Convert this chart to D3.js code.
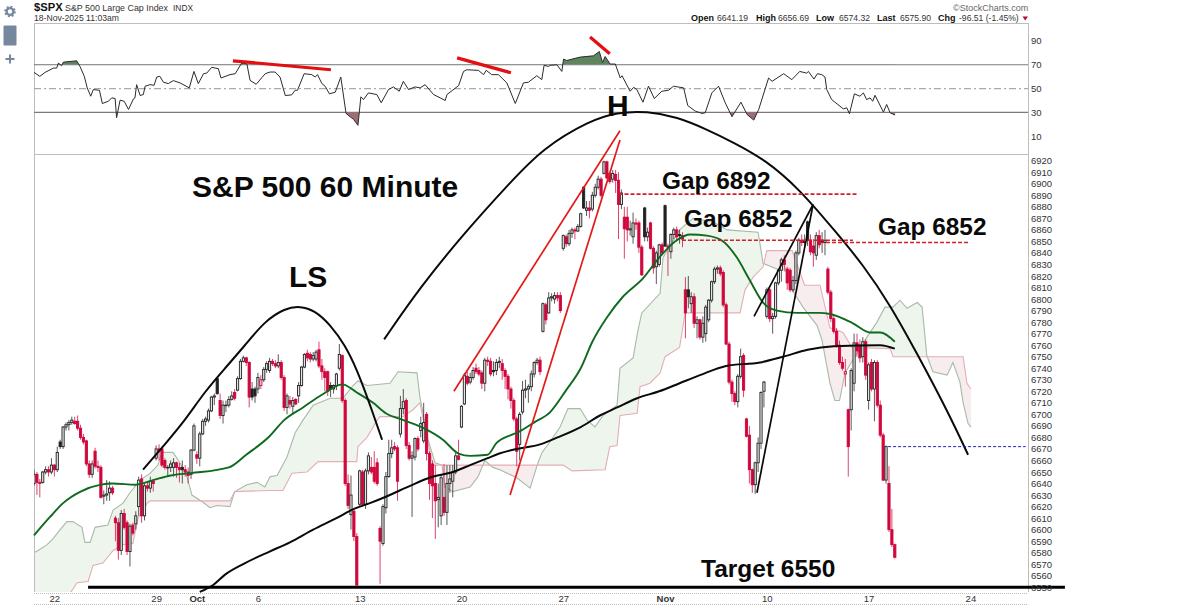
<!DOCTYPE html>
<html>
<head>
<meta charset="utf-8">
<style>
  html, body { margin: 0; padding: 0; background: #fff; }
  svg { display: block; }
  text { font-family: "Liberation Sans", Arial, sans-serif; }
</style>
<script src="https://cdn.jsdelivr.net/npm/d3@7/dist/d3.min.js"></script>
</head>
<body>
<div id="chart-container"></div>
<script>
// Hourly candles, one value per bar, 7 bars a day (bar 7 = 22 Sep)
var opens = [
  6640,6648,6641,6641,6650,6652,6650,6656,6652,6676,
  6672,6689,6691,6693,6694,6694,6688,6680,6677,6657,
  6648,6668,6655,6654,6629,6630,6632,6636,6610,6606,
  6582,6614,6606,6581,6604,6605,6620,6644,6612,6638,
  6636,6642,6662,6670,6670,6660,6654,6654,6654,6658,
  6654,6654,6652,6650,6648,6669,6665,6662,6683,6694,
  6695,6703,6715,6731,6712,6699,6708,6708,6713,6719,
  6721,6731,6746,6749,6745,6722,6722,6722,6725,6730,
  6739,6738,6746,6744,6742,6745,6732,6706,6712,6707,
  6713,6716,6725,6741,6753,6752,6748,6748,6756,6742,
  6737,6737,6725,6722,6725,6740,6751,6712,6640,6613,
  6616,6594,6622,6650,6622,6651,6654,6654,6658,6601,
  6588,6619,6646,6666,6672,6671,6683,6705,6712,6673,
  6662,6663,6679,6686,6677,6700,6666,6657,6640,6626,
  6612,6628,6615,6640,6642,6650,6664,6689,6709,6733,
  6728,6732,6740,6738,6736,6727,6747,6746,6738,6738,
  6745,6744,6738,6733,6722,6712,6696,6674,6702,6721,
  6722,6724,6735,6745,6747,6772,6795,6788,6801,6800,
  6803,6803,6844,6854,6848,6857,6860,6859,6863,6897,
  6877,6879,6878,6890,6897,6904,6909,6919,6909,6904,
  6908,6903,6882,6871,6871,6860,6854,6866,6866,6845,
  6879,6854,6866,6844,6828,6830,6847,6881,6846,6841,
  6856,6860,6856,6855,6808,6808,6796,6802,6779,6782,
  6767,6770,6782,6799,6815,6826,6827,6823,6795,6761,
  6728,6718,6711,6733,6751,6696,6682,6652,6639,6658,
  6675,6720,6785,6808,6783,6785,6814,6825,6834,6826,
  6825,6808,6816,6840,6851,6849,6867,6851,6846,6838,
  6855,6851,6849,6826,6806,6783,6772,6760,6745,6735,
  6704,6704,6727,6762,6760,6750,6763,6712,6745,6722,
  6745,6708,6682,6643,6640,6600,6587
];
var closes = [
  6648,6641,6640,6650,6652,6650,6656,6652,6667,6672,
  6689,6691,6693,6695,6692,6688,6680,6676,6657,6648,
  6657,6655,6654,6628,6630,6631,6636,6632,6606,6582,
  6614,6602,6581,6603,6597,6612,6643,6612,6638,6636,
  6642,6640,6670,6668,6656,6654,6654,6657,6658,6654,
  6652,6652,6650,6647,6669,6690,6662,6683,6694,6696,
  6703,6715,6716,6718,6699,6708,6708,6713,6716,6714,
  6731,6746,6749,6745,6715,6715,6716,6732,6730,6739,
  6744,6746,6744,6742,6745,6732,6706,6716,6709,6712,
  6709,6725,6741,6752,6749,6748,6751,6754,6742,6737,
  6732,6720,6722,6725,6735,6752,6712,6640,6621,6630,
  6594,6552,6651,6622,6651,6664,6650,6642,6640,6590,
  6620,6646,6666,6671,6670,6642,6705,6711,6673,6662,
  6664,6679,6670,6692,6693,6666,6640,6638,6625,6628,
  6645,6615,6640,6644,6650,6664,6661,6707,6734,6727,
  6732,6738,6737,6735,6727,6747,6746,6735,6737,6745,
  6746,6738,6733,6722,6712,6696,6668,6700,6721,6722,
  6724,6735,6745,6747,6737,6796,6782,6801,6802,6803,
  6801,6790,6855,6848,6857,6860,6859,6863,6874,6879,
  6879,6877,6890,6897,6904,6890,6919,6905,6902,6909,
  6903,6882,6892,6861,6860,6861,6866,6865,6845,6821,
  6854,6858,6844,6827,6840,6847,6840,6846,6845,6856,
  6860,6854,6855,6852,6788,6802,6802,6779,6782,6767,
  6779,6793,6799,6815,6826,6827,6822,6795,6761,6728,
  6718,6711,6733,6750,6721,6681,6652,6639,6658,6675,
  6719,6728,6808,6783,6785,6814,6825,6834,6830,6814,
  6808,6816,6840,6851,6849,6850,6851,6841,6840,6855,
  6847,6849,6851,6806,6783,6772,6760,6745,6740,6737,
  6672,6738,6762,6755,6749,6763,6734,6743,6722,6745,
  6708,6682,6643,6672,6600,6587,6576
];
var highs = [
  6652,6650,6644,6651,6655,6655,6662,6657,6672,6678,
  6690,6693,6695,6698,6698,6699,6691,6683,6678,6660,
  6660,6671,6660,6656,6634,6643,6642,6638,6612,6610,
  6617,6618,6608,6605,6606,6616,6646,6648,6640,6642,
  6646,6644,6673,6674,6672,6662,6656,6660,6662,6659,
  6658,6660,6656,6654,6670,6692,6668,6685,6696,6698,
  6705,6716,6718,6732,6718,6712,6712,6716,6720,6722,
  6733,6748,6751,6750,6746,6728,6724,6736,6734,6741,
  6746,6749,6748,6747,6752,6747,6734,6718,6716,6715,
  6714,6728,6742,6753,6756,6754,6754,6756,6763,6748,
  6740,6738,6728,6726,6736,6761,6752,6714,6648,6647,
  6618,6597,6652,6652,6653,6667,6663,6668,6662,6603,
  6622,6650,6678,6678,6676,6673,6716,6722,6714,6676,
  6668,6680,6681,6698,6710,6702,6668,6660,6656,6640,
  6648,6657,6656,6656,6656,6667,6678,6708,6736,6737,
  6736,6741,6744,6741,6738,6749,6750,6749,6746,6748,
  6750,6748,6740,6735,6724,6714,6698,6702,6729,6730,
  6726,6738,6746,6749,6750,6797,6797,6806,6805,6806,
  6806,6806,6856,6856,6860,6862,6862,6865,6875,6898,
  6885,6885,6893,6900,6907,6906,6920,6920,6910,6912,
  6912,6910,6895,6880,6880,6868,6875,6870,6868,6847,
  6880,6862,6867,6846,6842,6848,6849,6882,6848,6857,
  6862,6863,6860,6858,6819,6820,6806,6805,6785,6783,
  6785,6795,6800,6816,6828,6829,6829,6825,6797,6763,
  6730,6720,6735,6757,6753,6697,6690,6653,6659,6680,
  6720,6729,6810,6810,6788,6815,6826,6836,6838,6828,
  6827,6820,6842,6853,6856,6856,6868,6856,6852,6858,
  6860,6858,6860,6828,6808,6785,6775,6764,6750,6748,
  6705,6740,6770,6770,6765,6767,6765,6745,6748,6747,
  6747,6712,6684,6673,6655,6618,6589
];
var lows = [
  6638,6630,6628,6640,6648,6646,6648,6646,6650,6670,
  6670,6686,6686,6691,6691,6686,6678,6674,6655,6645,
  6645,6653,6650,6627,6622,6625,6625,6630,6590,6574,
  6578,6600,6578,6568,6595,6600,6612,6606,6608,6633,
  6632,6633,6660,6660,6654,6652,6646,6650,6646,6645,
  6641,6640,6646,6640,6644,6668,6657,6655,6682,6690,
  6693,6702,6708,6717,6696,6692,6702,6706,6712,6712,
  6720,6730,6745,6742,6706,6712,6710,6718,6722,6728,
  6736,6736,6742,6740,6740,6730,6703,6700,6705,6700,
  6708,6710,6724,6740,6746,6745,6746,6746,6740,6730,
  6720,6716,6715,6718,6721,6738,6710,6638,6618,6600,
  6590,6551,6620,6620,6618,6648,6648,6640,6638,6553,
  6586,6614,6645,6662,6668,6625,6680,6700,6670,6660,
  6611,6660,6668,6680,6675,6660,6626,6610,6592,6602,
  6604,6612,6604,6632,6628,6648,6660,6688,6708,6725,
  6726,6730,6735,6733,6722,6720,6742,6733,6733,6734,
  6740,6730,6722,6713,6705,6694,6655,6660,6700,6714,
  6710,6720,6732,6743,6734,6771,6778,6787,6798,6796,
  6798,6788,6842,6845,6846,6853,6852,6858,6862,6878,
  6872,6870,6876,6888,6895,6888,6908,6904,6900,6901,
  6892,6852,6878,6835,6850,6855,6848,6860,6840,6820,
  6850,6850,6843,6822,6813,6828,6838,6845,6820,6835,
  6852,6850,6848,6845,6766,6792,6788,6775,6766,6765,
  6762,6763,6780,6797,6813,6822,6820,6793,6760,6726,
  6711,6708,6706,6731,6715,6680,6640,6632,6631,6650,
  6670,6706,6783,6780,6770,6783,6812,6815,6824,6808,
  6806,6806,6813,6838,6846,6845,6846,6838,6828,6834,
  6844,6840,6838,6804,6780,6770,6758,6743,6738,6724,
  6646,6686,6720,6750,6745,6745,6730,6704,6720,6694,
  6706,6680,6642,6640,6598,6585,6574
];

// Moving averages as [bar, price]
var greenMa = [[0,6595],[5.5,6611],[10,6623],[16,6633],[23,6639],[27,6640],[35,6639],[41,6643],[47,6647],[54,6649],[67,6654],[73,6665],[81,6681],[86,6695],[92.5,6706],[99,6717],[106,6726],[111,6719],[116.6,6710],[121,6701],[127,6695],[134,6688],[140.6,6678],[146,6666],[150,6664],[156,6665],[159,6675],[164,6682],[166,6684],[172,6693],[177.5,6702],[183,6721],[188,6740],[192,6763],[197,6784],[202.5,6802],[209.4,6818],[215,6836],[221,6851],[225.6,6856],[231.4,6855],[237,6850],[241.7,6836],[246,6817],[250.7,6797],[255.5,6790],[262.4,6788],[270,6788],[273.7,6787],[281.6,6779],[287.5,6771],[291,6771],[296,6763]];
var blackMa = [[57,6546],[61.6,6552],[65.7,6561],[72.6,6571],[81,6581],[88,6589],[96,6600],[104,6610],[110,6618],[115.5,6623],[121.4,6629],[129.3,6638],[136,6645],[144,6650],[150,6656],[156,6662],[160,6666],[166,6670],[174,6674],[180,6680],[188,6689],[194.6,6699],[200.5,6706],[207.4,6714],[215,6720],[222,6727],[229,6734],[238,6742],[249.7,6745],[257.6,6750],[266,6756],[275,6759],[291,6760],[296,6757]];

// Ichimoku cloud edges
var spanA = [[0,6580],[1.4,6582],[4.5,6587],[6.5,6592],[9,6600],[11.3,6607],[13.4,6607],[16.5,6602],[17.5,6589],[19.3,6589],[21,6602],[25.4,6604],[27.2,6617],[30.6,6623],[33,6632],[36.5,6643],[40,6649],[42.6,6656],[44,6667],[47.8,6667],[50.2,6658],[52.6,6646],[54.3,6630],[58,6624],[60.5,6619],[63,6621],[67.4,6620],[69,6633],[73.2,6639],[76.7,6641],[79.4,6637],[81.2,6646],[83.6,6647],[87,6663],[89.8,6684],[92.5,6695],[96,6708],[101.8,6714],[106.3,6714],[109.7,6725],[111.4,6729],[114.5,6725],[122.4,6727],[125.2,6737],[131.7,6736],[132.7,6715],[133.8,6701],[135.5,6678],[137.9,6658],[140.3,6656],[141.3,6637],[144,6633],[150,6637],[152.7,6646],[155,6660],[157.8,6654],[160.2,6652],[166,6645],[170.6,6636],[173.3,6658],[174.7,6667],[177.4,6676],[180.9,6689],[183.6,6705],[187.8,6705],[190.2,6695],[192.9,6689],[195.7,6699],[200.5,6708],[201.5,6740],[206,6749],[207.7,6773],[209,6788],[215.3,6805],[216.3,6836],[222,6860],[226.6,6870],[233.5,6867],[238.3,6860],[249,6858],[250.7,6831],[256.5,6825],[257.6,6832],[260.7,6808],[264.4,6793],[269.3,6777],[271,6764],[273.7,6727],[275.4,6712],[277,6712],[278.9,6736],[283,6753],[286.4,6767],[289.9,6780],[292.6,6793],[295.4,6793],[297.8,6799],[300.2,6792],[303.7,6797],[305.4,6793],[307,6751],[309.1,6737],[314,6734],[316,6745],[318.4,6728],[319.5,6710],[321.2,6692],[322.2,6689]];
var spanB = [[0,6530],[12.5,6545],[14.8,6554],[18.6,6555],[20.3,6569],[23.7,6571],[27.2,6582],[30.6,6587],[34,6588],[35.8,6610],[38.9,6623],[40,6625],[67.4,6625],[69,6633],[81.2,6634],[85.6,6634],[88.7,6649],[93.9,6650],[97.7,6659],[111,6659],[111.4,6672],[114.5,6680],[118,6695],[119,6698],[126.9,6698],[130.3,6704],[132.7,6710],[135.5,6675],[137.2,6656],[182,6656],[185,6651],[196.4,6652],[198,6672],[200.5,6673],[201.5,6699],[207.4,6701],[208.4,6724],[211.8,6727],[215.3,6736],[217,6750],[222,6758],[223.9,6788],[242.8,6788],[244.5,6808],[247.3,6819],[250.7,6828],[252,6842],[260.7,6842],[265,6812],[270.3,6812],[273.7,6775],[278.2,6771],[281.3,6758],[294.4,6757],[295.4,6750],[319.5,6750],[320.8,6727],[322.2,6722]];

// RSI pane
var rsiValues = [[0,63.6],[2,60.3],[3.8,63.6],[6.7,67.2],[7.8,67.2],[8.4,71.4],[9.5,69.2],[10.1,72.2],[14.7,73.3],[15.8,68.6],[17.3,60.3],[18.3,50.6],[19.5,43.6],[20.4,49.2],[22.5,48.6],[23.5,37.5],[25.6,39.4],[26.7,42.2],[27.9,41.7],[28.4,25.6],[29.6,40.3],[31,39.4],[32.5,32.5],[34.2,41.4],[34.7,42.2],[35.3,53.3],[36.5,44.2],[37.6,45],[38.2,52],[39.9,53.3],[41.3,52.8],[42.2,59.7],[43.3,60.3],[44.5,55.3],[46.2,54.2],[47.9,56.7],[50.2,54.8],[53.4,50.6],[55,64.4],[56.5,54.2],[58.3,62.5],[59.4,63],[61.1,67.8],[63.4,66.7],[64.3,58.9],[67.4,61.7],[69.2,62.5],[71.4,71.4],[73.2,70.8],[74.3,56.9],[76.4,53.6],[79.5,62.5],[81.2,63.9],[82.9,63.9],[84.6,59.7],[86.4,44.2],[88.6,44.7],[89.8,48.6],[90.6,48.6],[92.9,62.5],[95.5,61.7],[96.7,59.7],[97.5,61.7],[99,54.2],[100.1,52],[101.6,45.6],[103.6,47],[105.5,59.7],[107.3,29.2],[108.7,26.4],[109.9,24.2],[111.4,19.2],[112.4,43.1],[113.3,40.8],[115,46.4],[117.9,45],[119.4,38.1],[121.9,49.2],[123.6,51.4],[125.6,47.8],[127,56.1],[128.8,49.2],[131,51.4],[132.8,50.6],[134.5,53.3],[137.4,45],[139.7,42.2],[141.4,40],[142,45],[146,52.5],[147.7,64.4],[148.8,65.8],[152.8,65.3],[154.6,61.7],[155.5,65.3],[157.4,61.7],[159.7,61.7],[162.6,54.8],[165.5,37.5],[168.3,54.8],[170,55.3],[172.9,60.8],[174.6,57.5],[175.4,69.5],[176.9,68.6],[177.5,69.5],[179.8,70],[181.5,64.4],[182.1,74.7],[183.2,73.6],[187.8,76.4],[192.4,77.5],[194.4,81.1],[195.5,71.9],[196.4,76.9],[198.1,70.6],[199.9,70.6],[201.6,58.9],[202.2,60.8],[205,47.8],[206.2,51.1],[207.3,49.2],[209.4,38.6],[211.3,52],[213.3,41.7],[215.9,47.8],[218.2,48.6],[219.9,52],[223.4,50.6],[224.8,35.8],[227.4,31.1],[229.7,29.2],[230.8,29.7],[233.1,46.4],[235.4,52],[237.7,38.1],[240,26.4],[243.1,38.6],[245.2,28.3],[247.5,23.6],[249.2,32.5],[252.6,58.9],[253.8,56.1],[257.8,62.5],[260.6,57.5],[263.3,64.4],[265.7,63],[266.3,64.4],[268.2,58],[269.4,62.5],[270.9,61.7],[272,59.7],[272.6,49.2],[274.3,40.8],[278.3,33],[279.5,33.9],[280.4,28.9],[282.1,45.6],[284,43.6],[285.2,46.4],[286.3,40.8],[287.5,42.2],[288.4,39.4],[289.2,44.4],[292.1,30.3],[293.2,36.7],[294.4,29.7],[296.1,27.8]];
var rsiTicks = [90, 70, 50, 30, 10];

// Axis ticks
var priceTicks = d3.range(6550, 6921, 10);
var dateTickBars = [7, 42, 56, 77, 112, 147, 182, 217, 252, 287, 322];
var dateTickLabels = ['22', '29', 'Oct', '6', '13', '20', '27', 'Nov', '10', '17', '24'];

// Hand drawn annotations, in [bar, price] or [bar, rsi]
var rsiRedLines = [[[68.4,73.3],[102.1,65.8]], [[145.5,75.8],[164,63.3]], [[191.2,93.3],[198,79.2]]];
var lsArc = [[37.5,6652],[37.5,6652],[45,6674],[52,6695],[58.8,6720],[65.7,6740],[72.6,6760],[79.4,6781],[86.3,6792],[91.5,6794],[96.6,6790],[101.8,6778],[107,6760],[111,6739],[114.9,6713],[119.7,6678],[119.7,6678]];
var headArc = [[120.4,6765],[120.4,6765],[132.7,6810],[148.2,6858],[163.7,6901],[175,6931],[191.2,6955],[200.5,6962],[210.8,6963],[221.1,6958],[231.5,6947],[240.4,6936],[251.4,6921],[263.4,6895],[276.1,6857],[285,6830],[294.4,6795],[303.6,6753],[313.9,6704],[321.2,6665],[321.2,6665]];
var redTrends = [[[144.4,6720],[201.5,6946]], [[163.7,6630],[201.5,6938]]];
var blackTrends = [[[247.6,6785],[267.9,6882]], [[248.6,6632],[267.9,6882]]];
var gapLines = [[[201,6891],[283,6891]], [[222.8,6851],[281.6,6851]], [[270.3,6849],[321.2,6849]]];
var lastPriceLine = [[293.7,6672],[341,6672]];
var targetLine = [[18.6,6550],[354.5,6550]];

var width = 1200;
var height = 608;
var left = 34;
var right = 1028;

var svg = d3.select('#chart-container')
    .append('svg')
    .attr('width', width)
    .attr('height', height);

// Scales. Bars are spaced 2.908px and the axis runs on past the last bar
var x = d3.scaleLinear().domain([0, 322]).range([34, 970.4]);
var y = d3.scaleLinear().domain([6550, 6920]).range([587.3, 160.7]);
var r = d3.scaleLinear().domain([10, 90]).range([136.3, 40.9]);

var priceLine = d3.line().x(function(d) { return x(d[0]); }).y(function(d) { return y(d[1]); });
var smoothPrice = d3.line().x(function(d) { return x(d[0]); }).y(function(d) { return y(d[1]); }).curve(d3.curveMonotoneX);
var rsiLine = d3.line().x(function(d) { return x(d[0]); }).y(function(d) { return r(d[1]); });
var arcLine = d3.line().x(function(d) { return x(d[0]); }).y(function(d) { return y(d[1]); }).curve(d3.curveBasis);

var defs = svg.append('defs');
defs.append('clipPath').attr('id', 'price-clip').append('rect')
    .attr('x', left).attr('y', 155).attr('width', right - left).attr('height', 437);

// Cloud fill: two regions, each limited by a clip made from the other edge
function regionArea(edge, points) {
    return d3.area().x(function(d) { return x(d[0]); }).y0(edge).y1(function(d) { return y(d[1]); })(points);
}
defs.append('clipPath').attr('id', 'below-a').append('path').attr('d', regionArea(600, spanA));
defs.append('clipPath').attr('id', 'above-a').append('path').attr('d', regionArea(150, spanA));

var cloud = svg.append('g').attr('clip-path', 'url(#price-clip)');
cloud.append('g').attr('clip-path', 'url(#below-a)').append('path')
    .attr('d', regionArea(150, spanB)).attr('fill', '#edf5ec');
cloud.append('g').attr('clip-path', 'url(#above-a)').append('path')
    .attr('d', regionArea(600, spanB)).attr('fill', '#f7ecee');
cloud.append('path').attr('d', priceLine(spanA)).attr('fill', 'none')
    .attr('stroke', '#a8baa8').attr('stroke-width', 1.1);
cloud.append('path').attr('d', priceLine(spanB)).attr('fill', 'none')
    .attr('stroke', '#e3aeb6').attr('stroke-width', 1.1);

// Pane frames
var frame = svg.append('g').attr('stroke', '#bdbdbd').attr('stroke-width', 1).attr('fill', 'none');
frame.append('path').attr('d', d3.line()([[left, 23.5], [right, 23.5]]));
frame.append('path').attr('d', d3.line()([[left, 154.5], [right, 154.5]]));
frame.append('path').attr('d', d3.line()([[left + 0.5, 23], [left + 0.5, 592]]));
frame.append('path').attr('d', d3.line()([[right + 0.5, 23], [right + 0.5, 592]]));
frame.append('path').attr('d', d3.line()([[left, 593.5], [right, 593.5]])).attr('stroke-dasharray', '1,1');
frame.append('path').attr('d', d3.line()([[left, 604.5], [right, 604.5]])).attr('stroke-dasharray', '1,1');

// RSI guide lines
[70, 30].forEach(function(level) {
    svg.append('line').attr('x1', left).attr('x2', right).attr('y1', r(level)).attr('y2', r(level))
        .attr('stroke', '#7b7b7b').attr('stroke-width', 1.2);
});
svg.append('line').attr('x1', left).attr('x2', right).attr('y1', r(50)).attr('y2', r(50))
    .attr('stroke', '#aaaaaa').attr('stroke-width', 1.2).attr('stroke-dasharray', '7,3,2,3');

// RSI overbought and oversold fills
defs.append('clipPath').attr('id', 'rsi-high').append('rect')
    .attr('x', left).attr('y', 23).attr('width', right - left).attr('height', r(70) - 23);
defs.append('clipPath').attr('id', 'rsi-low').append('rect')
    .attr('x', left).attr('y', r(30)).attr('width', right - left).attr('height', 154 - r(30));
function rsiArea(level) {
    return d3.area().x(function(d) { return x(d[0]); }).y0(r(level)).y1(function(d) { return r(d[1]); })(rsiValues);
}
svg.append('path').attr('d', rsiArea(70)).attr('fill', '#5e8460').attr('clip-path', 'url(#rsi-high)');
svg.append('path').attr('d', rsiArea(30)).attr('fill', '#a06d74').attr('clip-path', 'url(#rsi-low)');
svg.append('path').attr('d', rsiLine(rsiValues)).attr('fill', 'none')
    .attr('stroke', '#2b2b2b').attr('stroke-width', 1);

// Candles: black when the close is above the previous close, red otherwise,
// hollow when the close is above the open
var barIndex = d3.range(opens.length);
function barColor(i) {
    return i === 0 || closes[i] >= closes[i - 1] ? '#222222' : '#d0063c';
}
var candles = svg.append('g').attr('clip-path', 'url(#price-clip)');
candles.selectAll('line')
    .data(barIndex)
    .enter()
    .append('line')
    .attr('x1', function(i) { return x(i); })
    .attr('x2', function(i) { return x(i); })
    .attr('y1', function(i) { return y(highs[i]); })
    .attr('y2', function(i) { return y(lows[i]); })
    .attr('stroke', function(i) { return i === opens.length - 1 ? '#f2a468' : barColor(i); })
    .attr('stroke-opacity', 0.75)
    .attr('stroke-width', 1);
candles.selectAll('rect')
    .data(barIndex)
    .enter()
    .append('rect')
    .attr('x', function(i) { return x(i) - 1.1; })
    .attr('width', 2.2)
    .attr('y', function(i) { return y(Math.max(opens[i], closes[i])); })
    .attr('height', function(i) { return Math.max(0.6, Math.abs(y(opens[i]) - y(closes[i]))); })
    .attr('fill', function(i) { return closes[i] > opens[i] ? '#e4e4e4' : barColor(i); })
    .attr('stroke', barColor)
    .attr('stroke-width', 0.9);

// Moving averages
svg.append('path').attr('d', smoothPrice(greenMa)).attr('fill', 'none')
    .attr('stroke', '#0d6a1e').attr('stroke-width', 1.9);
svg.append('path').attr('d', smoothPrice(blackMa)).attr('fill', 'none')
    .attr('stroke', '#0a0a0a').attr('stroke-width', 2);

// Annotations
function drawLines(lines, gen, color, strokeWidth, dash) {
    lines.forEach(function(points) {
        svg.append('path').attr('d', gen(points)).attr('fill', 'none')
            .attr('stroke', color).attr('stroke-width', strokeWidth)
            .attr('stroke-dasharray', dash || null);
    });
}
drawLines(rsiRedLines, rsiLine, '#e30f13', 3.2);
drawLines([lsArc, headArc], arcLine, '#0a0a0a', 2);
drawLines(redTrends, priceLine, '#e21a1a', 1.7);
drawLines(blackTrends, priceLine, '#0a0a0a', 1.7);
drawLines(gapLines, priceLine, '#d21f2a', 1.6, '4,2');
drawLines([lastPriceLine], priceLine, '#2222b8', 1, '3,2');
drawLines([targetLine], priceLine, '#000', 3);

// Annotation labels
var labels = [
    ['S&P 500 60 Minute', 192, 197, 30],
    ['LS', 289, 287, 30],
    ['H', 607, 116, 30],
    ['Gap 6892', 662, 189, 24.4],
    ['Gap 6852', 684, 227, 24.4],
    ['Gap 6852', 878, 235, 24.4],
    ['Target 6550', 701, 577, 24.5]
];
svg.selectAll('text.note')
    .data(labels)
    .enter()
    .append('text')
    .attr('class', 'note')
    .attr('x', function(d) { return d[1]; })
    .attr('y', function(d) { return d[2]; })
    .attr('font-size', function(d) { return d[3]; })
    .attr('font-weight', 'bold')
    .attr('fill', '#0a0a0a')
    .text(function(d) { return d[0]; });

// Axes
function styleAxis(g, fontSize) {
    g.select('.domain').remove();
    g.selectAll('text').attr('font-size', fontSize).attr('fill', '#333')
        .style('font-family', '"Liberation Sans", Arial, sans-serif');
}
svg.append('g').attr('transform', 'translate(' + right + ',0)')
    .call(d3.axisRight(y).tickValues(priceTicks).tickSize(0).tickPadding(3).tickFormat(d3.format('d')))
    .call(styleAxis, 9.5);
svg.append('g').attr('transform', 'translate(' + right + ',0)')
    .call(d3.axisRight(r).tickValues(rsiTicks).tickSize(0).tickPadding(3))
    .call(styleAxis, 9.5);
var dateAxis = svg.append('g').attr('transform', 'translate(0,592)')
    .call(d3.axisBottom(x).tickValues(dateTickBars).tickSize(0).tickPadding(3)
        .tickFormat(function(d, i) { return dateTickLabels[i]; }))
    .call(styleAxis, 9.5);
dateAxis.selectAll('text')
    .attr('font-weight', function(d, i) { return isNaN(+dateTickLabels[i]) ? 'bold' : null; });

// Header
function header(str, xPos, yPos, size, weight, color) {
    return svg.append('text').attr('x', xPos).attr('y', yPos).attr('font-size', size)
        .attr('font-weight', weight || null).attr('fill', color || '#333').text(str);
}
header('$SPX', 34, 11, 11.2, 'bold', '#111');
header('S&P 500 Large Cap Index', 65, 10.5, 8.9);
header('INDX', 173, 10.5, 8.4);
header('18-Nov-2025 11:03am', 34, 21, 8.6);
header('\u00a9StockCharts.com', 953, 10.5, 9, null, '#666');
var quote = [
    ['Open', 691, '6641.19', 717],
    ['High', 756, '6656.69', 778],
    ['Low', 816, '6574.32', 839],
    ['Last', 877, '6575.90', 900],
    ['Chg', 938, '-96.51  (-1.45%)', 959]
];
quote.forEach(function(q) {
    header(q[0], q[1], 21, 9, 'bold', '#111');
    header(q[2], q[3], 21, 8.6);
});
svg.append('path').attr('d', 'M1022.5,16.5 L1028,16.5 L1025.2,20.5 Z').attr('fill', '#b01030');

// Sidebar icons
var slate = '#76889e';
svg.append('circle').attr('cx', 10).attr('cy', 11.5).attr('r', 3.4)
    .attr('fill', 'none').attr('stroke', slate).attr('stroke-width', 2.4);
svg.append('circle').attr('cx', 10).attr('cy', 11.5).attr('r', 5)
    .attr('fill', 'none').attr('stroke', slate).attr('stroke-width', 1.6).attr('stroke-dasharray', '2,1.9');
svg.append('rect').attr('x', 3.5).attr('y', 25.5).attr('width', 13).attr('height', 20)
    .attr('rx', 1).attr('fill', slate);
svg.append('path').attr('d', 'M5.5,59 H14.5 M10,54.5 V63.5').attr('stroke', slate).attr('stroke-width', 2);
</script>
</body>
</html>
